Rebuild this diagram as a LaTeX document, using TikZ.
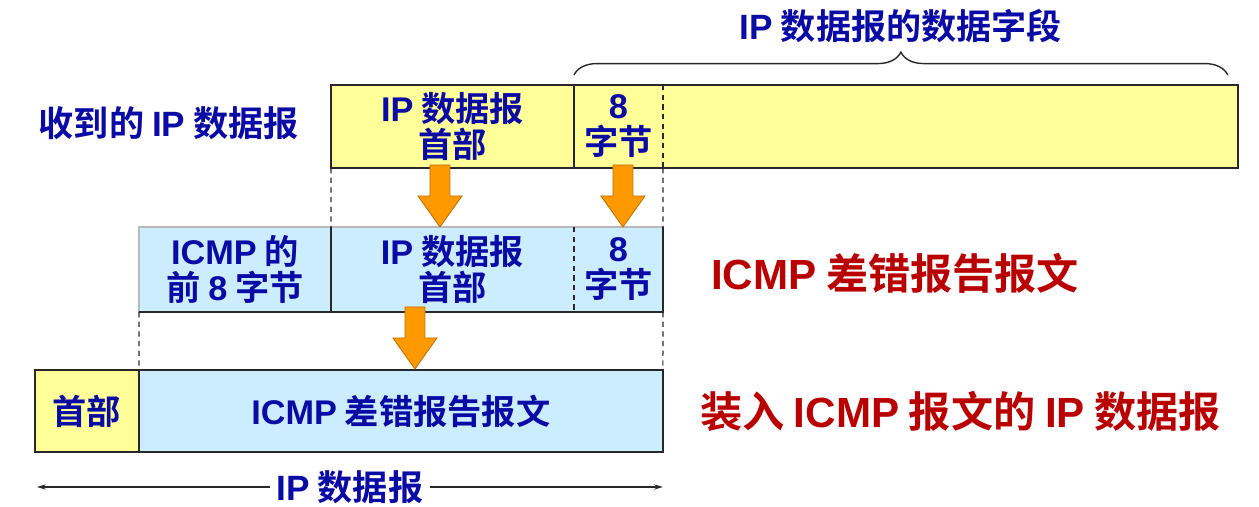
\documentclass[tikz,border=0pt]{standalone}
\usepackage{fontspec}
\setmainfont{Noto Sans CJK SC}[BoldFont={Noto Sans CJK SC Bold}]
\newfontfamily\latfont{Liberation Sans}[BoldFont={Liberation Sans Bold}]
\newcommand{\lat}[1]{{\latfont #1}}
\usetikzlibrary{arrows.meta, positioning, calc, decorations.pathreplacing}
\definecolor{pktyellow}{RGB}{255,255,153}
\definecolor{pktblue}{RGB}{204,236,255}
\definecolor{txtblue}{RGB}{10,10,165}
\definecolor{txtred}{RGB}{185,0,0}
\definecolor{arrorange}{RGB}{255,153,0}
\definecolor{edgegray}{RGB}{40,40,40}

\begin{document}
\begin{tikzpicture}[
    x=0.02cm, y=-0.02cm,
    cell/.style={inner sep=0pt, outer sep=0pt, align=center, text=txtblue,
                 font=\fontsize{19.5}{20.5}\selectfont\bfseries},
    ycell/.style={cell, fill=pktyellow},
    bcell/.style={cell, fill=pktblue},
    frame/.style={draw=edgegray, line width=1.2pt},
    divider/.style={draw=edgegray, line width=0.9pt},
    guide/.style={draw=edgegray, line width=0.7pt, dash pattern=on 3pt off 2.5pt},
    lbl/.style={text=txtblue, font=\fontsize{20}{22}\selectfont\bfseries},
    redlbl/.style={text=txtred, font=\fontsize{24}{26}\selectfont\bfseries},
    bigarr/.pic={\draw[fill=arrorange, draw=arrorange!75!black, line width=0.5pt]
        (-10,0) -- (-10,31) -- (-22,31) -- (0,62) -- (22,31) -- (10,31) -- (10,0) -- cycle;},
  ]
  \useasboundingbox (0,0) rectangle (1259,507);

  % Row 1: received IP datagram
  \node[ycell, anchor=north west, minimum width=4.86cm, minimum height=1.66cm]
       (hdrA) at (331,85) {\lat{IP} 数据报\\首部};
  \node[ycell, right=0pt of hdrA, minimum width=1.78cm, minimum height=1.66cm]
       (byteA) {\lat{8}\\字节};
  \node[ycell, right=0pt of byteA, minimum width=11.5cm, minimum height=1.66cm]
       (restA) {};
  \draw[frame] (hdrA.north west) rectangle (restA.south east);
  \draw[divider] (hdrA.north east) -- (hdrA.south east);
  \draw[guide] (byteA.north east) -- (byteA.south east);

  % Row 2: ICMP error message
  \node[bcell, anchor=north west, minimum width=3.84cm, minimum height=1.7cm]
       (icmp8) at (139,227) {\lat{ICMP} 的\\前 \lat{8} 字节};
  \node[bcell, right=0pt of icmp8, minimum width=4.86cm, minimum height=1.7cm]
       (hdrB) {\lat{IP} 数据报\\首部};
  \node[bcell, right=0pt of hdrB, minimum width=1.78cm, minimum height=1.7cm]
       (byteB) {\lat{8}\\字节};
  \draw[draw=gray!55, line width=1pt] (icmp8.north west) rectangle (byteB.south east);
  \draw[frame] (byteB.north east) -- (byteB.south east) -- (icmp8.south west);
  \draw[divider] (icmp8.north east) -- (icmp8.south east);
  \draw[guide] (hdrB.north east) -- (hdrB.south east);

  % Row 3: IP datagram carrying ICMP
  \node[ycell, anchor=north west, minimum width=2.08cm, minimum height=1.64cm]
       (hdC) at (35,370) {首部};
  \node[bcell, right=0pt of hdC, minimum width=10.48cm, minimum height=1.64cm]
       (msgC) {\lat{ICMP} 差错报告报文};
  \draw[frame] (hdC.north west) rectangle (msgC.south east);
  \draw[divider] (hdC.north east) -- (hdC.south east);

  % Guides between rows
  \draw[guide] (hdrA.south west) -- (hdrB.north west);
  \draw[guide] (byteA.south east) -- (byteB.north east);
  \draw[guide] (icmp8.south west) -- (msgC.north west);
  \draw[guide] (byteB.south east) -- (msgC.north east);

  % Orange arrows
  \pic at ($(hdrA.south)+(-12.5,-3)$) {bigarr};
  \pic at ($(byteA.south)+(4.5,-3)$) {bigarr};
  \pic at ($(hdrB.south)+(-37.5,-5)$) {bigarr};

  % Brace over data field
  \draw[decorate, decoration={brace, amplitude=13pt}, line width=0.8pt, edgegray]
       ($(byteA.north west)+(0,-10)$) -- ($(restA.north east)+(-10,-10)$)
       node[lbl, midway, above=0.52cm] (datafield) {\lat{IP} 数据报的数据字段};

  % Labels
  \node[lbl, left=0.52cm of hdrA, yshift=2pt] (recvd) {收到的 \lat{IP} 数据报};
  \node[redlbl, right=0.84cm of byteB, yshift=-2pt] (icmpmsg) {\lat{ICMP} 差错报告报文};
  \node[redlbl, right=0.62cm of msgC] (ipicmp) {装入 \lat{ICMP} 报文的 \lat{IP} 数据报};

  % Length of whole datagram
  \coordinate (dimL) at ($(hdC.south west)+(2,35)$);
  \coordinate (dimR) at ($(msgC.south east)+(0,35)$);
  \draw[{Stealth[length=5pt, width=3pt]}-{Stealth[length=5pt, width=3pt]}, line width=0.7pt, edgegray]
       (dimL) -- (dimR) node[lbl, midway, fill=white, inner xsep=4pt] (iplen) {\lat{IP} 数据报};
\end{tikzpicture}
\end{document}
